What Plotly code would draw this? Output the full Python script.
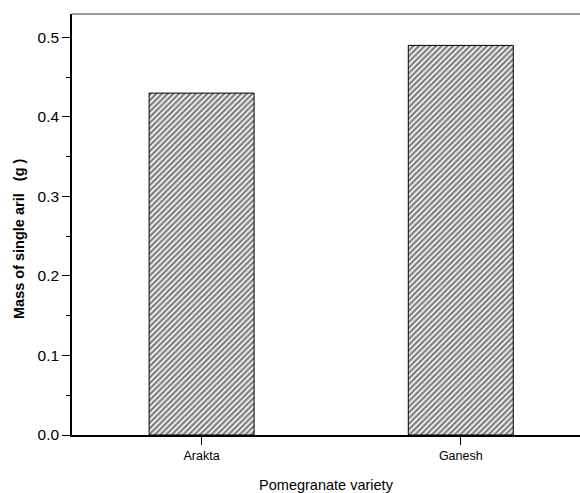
import plotly.graph_objects as go

categories = ["Arakta", "Ganesh"]
values = [0.43, 0.49]
y_ticks = [0.0, 0.1, 0.2, 0.3, 0.4, 0.5]
y_tick_labels = ["0.0", "0.1", "0.2", "0.3", "0.4", "0.5"]

fig = go.Figure()
fig.add_trace(go.Bar(
    x=categories, y=values, width=0.405,
    marker=dict(color="white", line=dict(color="black", width=1),
                pattern=dict(shape="/", fgcolor="black", bgcolor="white", size=4, solidity=0.6)),
))

font_family = "Liberation Sans, Arial, sans-serif"
fig.update_layout(
    width=580, height=493,
    margin=dict(l=72, r=0, t=14, b=58),
    paper_bgcolor="white", plot_bgcolor="white",
    showlegend=False,
    font=dict(family=font_family, color="black"),
    xaxis=dict(
        range=[-0.5, 1.46], showgrid=False, zeroline=False, automargin=False,
        showline=True, linecolor="black", linewidth=1.5,
        ticks="outside", ticklen=8, tickwidth=1.2, tickcolor="black",
        tickfont=dict(size=12.5, family=font_family),
        title=dict(text="Pomegranate variety", font=dict(size=14.5, family=font_family), standoff=21),
    ),
    yaxis=dict(
        range=[0, 0.5295], showgrid=False, zeroline=False, automargin=False,
        showline=True, linecolor="black", linewidth=1.5,
        tickvals=y_ticks, ticktext=y_tick_labels,
        ticks="outside", ticklen=8, tickwidth=1.2, tickcolor="black",
        tickfont=dict(size=15.5, family=font_family),
        minor=dict(dtick=0.05, ticks="outside", ticklen=4, tickwidth=1.2, tickcolor="black"),
    ),
    annotations=[dict(
        text="<b>Mass of single aril&nbsp;&nbsp; (g )</b>", textangle=-90,
        xref="paper", yref="paper", x=0, y=0.4656, xshift=-53,
        xanchor="center", yanchor="middle", showarrow=False,
        font=dict(size=14.5, family=font_family, color="black"),
    )],
    shapes=[dict(type="line", xref="paper", yref="paper", x0=0, x1=1, y0=1, y1=1,
                 line=dict(color="#777", width=1.5))],
)

fig.write_html("out.html", config={"displayModeBar": False},
               post_script="document.body.style.margin='0';document.body.style.overflow='hidden';")
